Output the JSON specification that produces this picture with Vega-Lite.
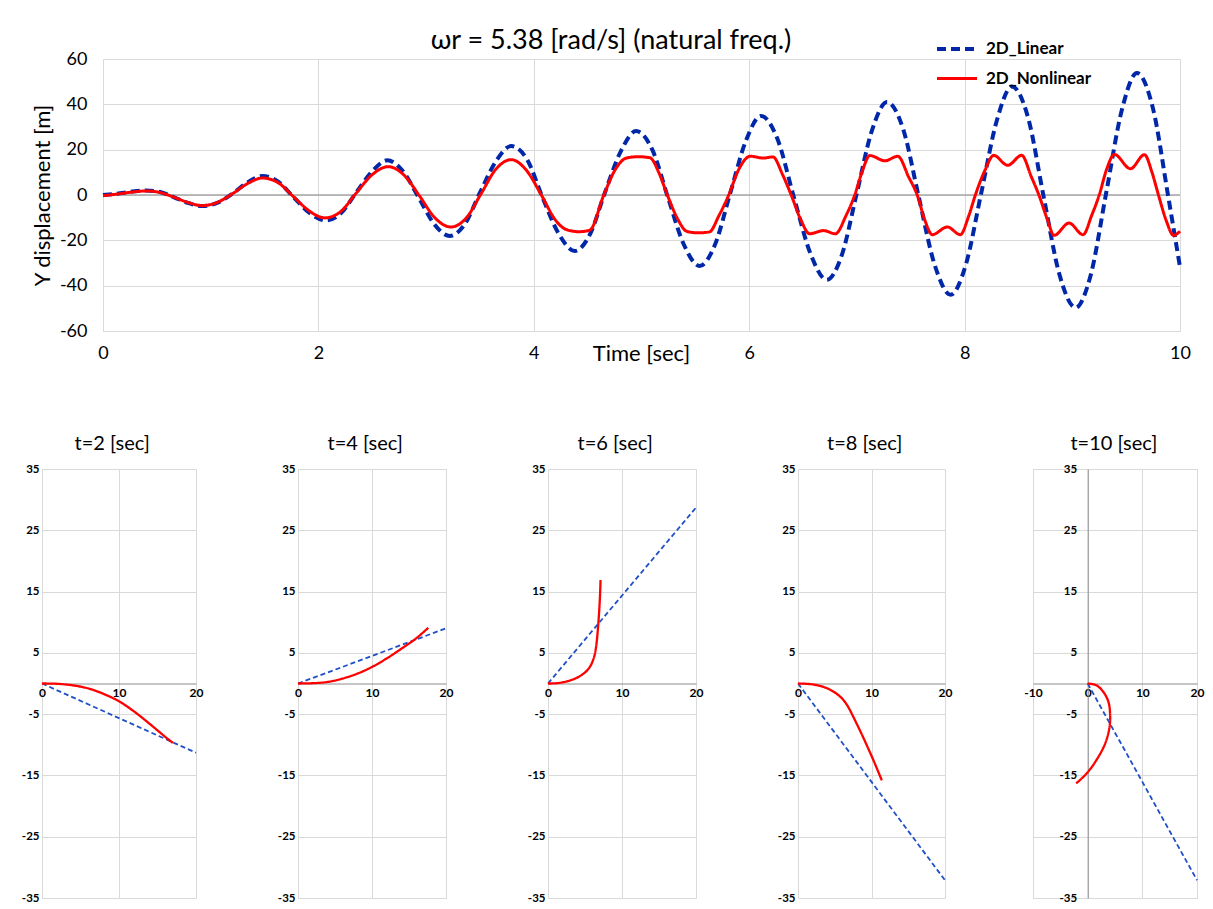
{
  "$schema": "https://vega.github.io/schema/vega-lite/v6.json",
  "background": "white",
  "padding": {"left": 21, "top": 27, "right": 5, "bottom": 0},
  "spacing": 70,
  "resolve": {"scale": {"color": "independent", "strokeDash": "independent", "strokeWidth": "independent", "x": "independent", "y": "independent"}},
  "datasets": {
    "top": [
      {"s":"2D_Linear","t":0,"v":0},{"s":"2D_Linear","t":0.13,"v":0.6},{"s":"2D_Linear","t":0.27,"v":1.5},{"s":"2D_Linear","t":0.4,"v":2.0},{"s":"2D_Linear","t":0.53,"v":1.3},{"s":"2D_Linear","t":0.66,"v":-1.0},{"s":"2D_Linear","t":0.79,"v":-3.5},{"s":"2D_Linear","t":0.92,"v":-4.9},{"s":"2D_Linear","t":1.06,"v":-3.5},{"s":"2D_Linear","t":1.2,"v":0.5},{"s":"2D_Linear","t":1.34,"v":5.5},{"s":"2D_Linear","t":1.48,"v":8.4},{"s":"2D_Linear","t":1.63,"v":5.8},{"s":"2D_Linear","t":1.77,"v":-1.0},{"s":"2D_Linear","t":1.92,"v":-8.0},{"s":"2D_Linear","t":2.07,"v":-11.2},{"s":"2D_Linear","t":2.21,"v":-8.0},{"s":"2D_Linear","t":2.35,"v":1.0},{"s":"2D_Linear","t":2.5,"v":10.5},{"s":"2D_Linear","t":2.64,"v":15.3},{"s":"2D_Linear","t":2.78,"v":10.8},{"s":"2D_Linear","t":2.93,"v":-1.0},{"s":"2D_Linear","t":3.07,"v":-12.5},{"s":"2D_Linear","t":3.22,"v":-18.1},{"s":"2D_Linear","t":3.36,"v":-12.8},{"s":"2D_Linear","t":3.5,"v":1.0},{"s":"2D_Linear","t":3.65,"v":15.0},{"s":"2D_Linear","t":3.79,"v":21.6},{"s":"2D_Linear","t":3.94,"v":15.5},{"s":"2D_Linear","t":4.08,"v":-1.0},{"s":"2D_Linear","t":4.23,"v":-17.0},{"s":"2D_Linear","t":4.38,"v":-24.7},{"s":"2D_Linear","t":4.52,"v":-17.5},{"s":"2D_Linear","t":4.66,"v":1.0},{"s":"2D_Linear","t":4.81,"v":19.5},{"s":"2D_Linear","t":4.95,"v":28.2},{"s":"2D_Linear","t":5.1,"v":20.0},{"s":"2D_Linear","t":5.245,"v":-1.0},{"s":"2D_Linear","t":5.39,"v":-21.5},{"s":"2D_Linear","t":5.54,"v":-31.3},{"s":"2D_Linear","t":5.68,"v":-22.2},{"s":"2D_Linear","t":5.825,"v":1.0},{"s":"2D_Linear","t":5.97,"v":24.0},{"s":"2D_Linear","t":6.11,"v":34.9},{"s":"2D_Linear","t":6.26,"v":25.0},{"s":"2D_Linear","t":6.415,"v":-1.0},{"s":"2D_Linear","t":6.57,"v":-26.0},{"s":"2D_Linear","t":6.72,"v":-37.4},{"s":"2D_Linear","t":6.86,"v":-26.5},{"s":"2D_Linear","t":7.0,"v":1.0},{"s":"2D_Linear","t":7.14,"v":28.5},{"s":"2D_Linear","t":7.28,"v":41.0},{"s":"2D_Linear","t":7.43,"v":29.0},{"s":"2D_Linear","t":7.575,"v":-1.0},{"s":"2D_Linear","t":7.72,"v":-30.5},{"s":"2D_Linear","t":7.87,"v":-44.0},{"s":"2D_Linear","t":8.01,"v":-31.0},{"s":"2D_Linear","t":8.155,"v":1.0},{"s":"2D_Linear","t":8.3,"v":33.0},{"s":"2D_Linear","t":8.44,"v":47.9},{"s":"2D_Linear","t":8.59,"v":34.0},{"s":"2D_Linear","t":8.735,"v":-1.0},{"s":"2D_Linear","t":8.88,"v":-35.0},{"s":"2D_Linear","t":9.03,"v":-49.7},{"s":"2D_Linear","t":9.17,"v":-35.5},{"s":"2D_Linear","t":9.315,"v":1.0},{"s":"2D_Linear","t":9.46,"v":37.5},{"s":"2D_Linear","t":9.6,"v":53.8},{"s":"2D_Linear","t":9.75,"v":38.0},{"s":"2D_Linear","t":9.89,"v":-0.5},{"s":"2D_Linear","t":10.0,"v":-31.8},
      {"s":"2D_Nonlinear","t":0,"v":-0.3},{"s":"2D_Nonlinear","t":0.13,"v":0.4},{"s":"2D_Nonlinear","t":0.27,"v":1.3},{"s":"2D_Nonlinear","t":0.4,"v":1.8},{"s":"2D_Nonlinear","t":0.53,"v":1.1},{"s":"2D_Nonlinear","t":0.66,"v":-1.0},{"s":"2D_Nonlinear","t":0.79,"v":-3.3},{"s":"2D_Nonlinear","t":0.92,"v":-4.7},{"s":"2D_Nonlinear","t":1.06,"v":-3.3},{"s":"2D_Nonlinear","t":1.2,"v":0.5},{"s":"2D_Nonlinear","t":1.34,"v":5.0},{"s":"2D_Nonlinear","t":1.48,"v":7.5},{"s":"2D_Nonlinear","t":1.63,"v":5.3},{"s":"2D_Nonlinear","t":1.77,"v":-0.8},{"s":"2D_Nonlinear","t":1.92,"v":-7.2},{"s":"2D_Nonlinear","t":2.06,"v":-10.1},{"s":"2D_Nonlinear","t":2.21,"v":-7.2},{"s":"2D_Nonlinear","t":2.35,"v":0.8},{"s":"2D_Nonlinear","t":2.5,"v":9.0},{"s":"2D_Nonlinear","t":2.65,"v":12.5},{"s":"2D_Nonlinear","t":2.79,"v":9.0},{"s":"2D_Nonlinear","t":2.94,"v":-0.5},{"s":"2D_Nonlinear","t":3.08,"v":-10.0},{"s":"2D_Nonlinear","t":3.23,"v":-14.1},{"s":"2D_Nonlinear","t":3.37,"v":-10.3},{"s":"2D_Nonlinear","t":3.51,"v":0.5},{"s":"2D_Nonlinear","t":3.65,"v":11.5},{"s":"2D_Nonlinear","t":3.79,"v":15.6},{"s":"2D_Nonlinear","t":3.93,"v":11.0},{"s":"2D_Nonlinear","t":4.07,"v":0.0},{"s":"2D_Nonlinear","t":4.2,"v":-11.0},{"s":"2D_Nonlinear","t":4.3,"v":-15.2},{"s":"2D_Nonlinear","t":4.42,"v":-16.2},{"s":"2D_Nonlinear","t":4.52,"v":-15.5},{"s":"2D_Nonlinear","t":4.65,"v":0.0},{"s":"2D_Nonlinear","t":4.76,"v":11.5},{"s":"2D_Nonlinear","t":4.86,"v":16.3},{"s":"2D_Nonlinear","t":4.97,"v":16.9},{"s":"2D_Nonlinear","t":5.08,"v":16.4},{"s":"2D_Nonlinear","t":5.16,"v":10.0},{"s":"2D_Nonlinear","t":5.24,"v":0.0},{"s":"2D_Nonlinear","t":5.33,"v":-10.0},{"s":"2D_Nonlinear","t":5.42,"v":-16.0},{"s":"2D_Nonlinear","t":5.52,"v":-16.7},{"s":"2D_Nonlinear","t":5.63,"v":-16.3},{"s":"2D_Nonlinear","t":5.72,"v":-9.0},{"s":"2D_Nonlinear","t":5.81,"v":0.0},{"s":"2D_Nonlinear","t":5.9,"v":11.0},{"s":"2D_Nonlinear","t":6.01,"v":17.1},{"s":"2D_Nonlinear","t":6.13,"v":16.3},{"s":"2D_Nonlinear","t":6.22,"v":16.8},{"s":"2D_Nonlinear","t":6.31,"v":9.0},{"s":"2D_Nonlinear","t":6.39,"v":0.0},{"s":"2D_Nonlinear","t":6.48,"v":-11.0},{"s":"2D_Nonlinear","t":6.56,"v":-17.1},{"s":"2D_Nonlinear","t":6.69,"v":-15.7},{"s":"2D_Nonlinear","t":6.8,"v":-17.1},{"s":"2D_Nonlinear","t":6.9,"v":-9.0},{"s":"2D_Nonlinear","t":6.98,"v":0.0},{"s":"2D_Nonlinear","t":7.05,"v":10.5},{"s":"2D_Nonlinear","t":7.12,"v":17.4},{"s":"2D_Nonlinear","t":7.26,"v":15.1},{"s":"2D_Nonlinear","t":7.38,"v":17.1},{"s":"2D_Nonlinear","t":7.48,"v":8.0},{"s":"2D_Nonlinear","t":7.56,"v":0.0},{"s":"2D_Nonlinear","t":7.63,"v":-11.0},{"s":"2D_Nonlinear","t":7.7,"v":-17.5},{"s":"2D_Nonlinear","t":7.84,"v":-14.1},{"s":"2D_Nonlinear","t":7.96,"v":-17.5},{"s":"2D_Nonlinear","t":8.04,"v":-9.0},{"s":"2D_Nonlinear","t":8.1,"v":0.0},{"s":"2D_Nonlinear","t":8.19,"v":11.0},{"s":"2D_Nonlinear","t":8.27,"v":17.5},{"s":"2D_Nonlinear","t":8.4,"v":13.1},{"s":"2D_Nonlinear","t":8.53,"v":17.5},{"s":"2D_Nonlinear","t":8.62,"v":8.0},{"s":"2D_Nonlinear","t":8.69,"v":0.0},{"s":"2D_Nonlinear","t":8.77,"v":-11.0},{"s":"2D_Nonlinear","t":8.83,"v":-17.8},{"s":"2D_Nonlinear","t":8.97,"v":-12.4},{"s":"2D_Nonlinear","t":9.1,"v":-17.5},{"s":"2D_Nonlinear","t":9.18,"v":-9.0},{"s":"2D_Nonlinear","t":9.25,"v":0.0},{"s":"2D_Nonlinear","t":9.32,"v":11.5},{"s":"2D_Nonlinear","t":9.39,"v":17.9},{"s":"2D_Nonlinear","t":9.54,"v":11.6},{"s":"2D_Nonlinear","t":9.67,"v":17.8},{"s":"2D_Nonlinear","t":9.74,"v":10.0},{"s":"2D_Nonlinear","t":9.8,"v":0.0},{"s":"2D_Nonlinear","t":9.87,"v":-11.0},{"s":"2D_Nonlinear","t":9.94,"v":-17.8},{"s":"2D_Nonlinear","t":10.0,"v":-16.0}
    ],
    "shapes": [
      {"p":2,"s":"L","i":0,"x":0,"y":0},{"p":2,"s":"L","i":1,"x":20,"y":-11.3},
      {"p":2,"s":"N","i":0,"x":0,"y":0},{"p":2,"s":"N","i":1,"x":2,"y":-0.05},{"p":2,"s":"N","i":2,"x":4,"y":-0.3},{"p":2,"s":"N","i":3,"x":6,"y":-0.8},{"p":2,"s":"N","i":4,"x":8,"y":-1.7},{"p":2,"s":"N","i":5,"x":10,"y":-2.9},{"p":2,"s":"N","i":6,"x":12,"y":-4.6},{"p":2,"s":"N","i":7,"x":14,"y":-6.6},{"p":2,"s":"N","i":8,"x":16,"y":-8.7},{"p":2,"s":"N","i":9,"x":17,"y":-9.7},
      {"p":4,"s":"L","i":0,"x":0,"y":0},{"p":4,"s":"L","i":1,"x":20,"y":9.0},
      {"p":4,"s":"N","i":0,"x":0,"y":0},{"p":4,"s":"N","i":1,"x":2,"y":0.05},{"p":4,"s":"N","i":2,"x":4,"y":0.25},{"p":4,"s":"N","i":3,"x":6,"y":0.8},{"p":4,"s":"N","i":4,"x":8,"y":1.6},{"p":4,"s":"N","i":5,"x":10,"y":2.7},{"p":4,"s":"N","i":6,"x":12,"y":4.1},{"p":4,"s":"N","i":7,"x":14,"y":5.7},{"p":4,"s":"N","i":8,"x":16,"y":7.4},{"p":4,"s":"N","i":9,"x":17.6,"y":9.1},
      {"p":6,"s":"L","i":0,"x":0,"y":0},{"p":6,"s":"L","i":1,"x":20,"y":28.7},
      {"p":6,"s":"N","i":0,"x":0,"y":0},{"p":6,"s":"N","i":1,"x":1,"y":0.03},{"p":6,"s":"N","i":2,"x":2,"y":0.2},{"p":6,"s":"N","i":3,"x":3,"y":0.5},{"p":6,"s":"N","i":4,"x":4,"y":1.0},{"p":6,"s":"N","i":5,"x":5,"y":1.8},{"p":6,"s":"N","i":6,"x":5.7,"y":2.8},{"p":6,"s":"N","i":7,"x":6.2,"y":4.2},{"p":6,"s":"N","i":8,"x":6.5,"y":6.0},{"p":6,"s":"N","i":9,"x":6.75,"y":9.0},{"p":6,"s":"N","i":10,"x":6.95,"y":12.5},{"p":6,"s":"N","i":11,"x":7.05,"y":15.0},{"p":6,"s":"N","i":12,"x":7.1,"y":16.9},
      {"p":8,"s":"L","i":0,"x":0,"y":0},{"p":8,"s":"L","i":1,"x":20,"y":-32.1},
      {"p":8,"s":"N","i":0,"x":0,"y":0},{"p":8,"s":"N","i":1,"x":2,"y":-0.15},{"p":8,"s":"N","i":2,"x":4,"y":-0.8},{"p":8,"s":"N","i":3,"x":5.5,"y":-1.9},{"p":8,"s":"N","i":4,"x":6.5,"y":-3.2},{"p":8,"s":"N","i":5,"x":8,"y":-6.6},{"p":8,"s":"N","i":6,"x":10,"y":-11.8},{"p":8,"s":"N","i":7,"x":11.4,"y":-15.8},
      {"p":10,"s":"L","i":0,"x":0,"y":0},{"p":10,"s":"L","i":1,"x":20,"y":-32.1},
      {"p":10,"s":"N","i":0,"x":0,"y":0},{"p":10,"s":"N","i":1,"x":1.6,"y":-0.3},{"p":10,"s":"N","i":2,"x":2.9,"y":-1.4},{"p":10,"s":"N","i":3,"x":3.8,"y":-3.0},{"p":10,"s":"N","i":4,"x":4.1,"y":-4.9},{"p":10,"s":"N","i":5,"x":4.0,"y":-7.1},{"p":10,"s":"N","i":6,"x":3.2,"y":-9.8},{"p":10,"s":"N","i":7,"x":1.6,"y":-12.5},{"p":10,"s":"N","i":8,"x":-0.2,"y":-14.7},{"p":10,"s":"N","i":9,"x":-2.1,"y":-16.3}
    ]
  },
  "vconcat": [
    {
      "width": 1138,
      "height": 272,
      "title": {"text": "ωr = 5.38 [rad/s] (natural freq.)", "fontSize": 27, "anchor": "middle", "frame": "group", "offset": -28},
      "data": {"name": "top"},
      "layer": [
        {
          "data": {"values": [{}]},
          "mark": {"type": "rule", "color": "#a6a6a6", "strokeWidth": 1.3},
          "encoding": {"x": {"datum": 0, "type": "quantitative"}, "x2": {"datum": 10}, "y": {"datum": 0, "type": "quantitative"}}
        },
        {
          "mark": {"type": "line", "interpolate": "monotone"},
          "encoding": {
            "x": {"field": "t", "type": "quantitative", "scale": {"domain": [0, 10], "nice": false, "zero": false, "range": [61, 1138]},
              "axis": {"values": [0, 2, 4, 6, 8, 10], "labelExpr": "'' + datum.value", "grid": true, "domain": false, "ticks": false, "tickSize": 0, "labelFontSize": 18, "labelPadding": 13, "labelFlush": false,
                "title": "Time [sec]", "titleFontSize": 22, "titleFontWeight": "normal", "titleX": 599, "titleY": 22, "titleAlign": "center", "titleBaseline": "middle"}},
            "y": {"field": "v", "type": "quantitative", "scale": {"domain": [-60, 60], "nice": false, "zero": false},
              "axis": {"values": [-60, -40, -20, 0, 20, 40, 60], "labelExpr": "datum.value < 0 ? '-' + abs(datum.value) : '' + datum.value", "offset": -61, "grid": true, "domain": false, "ticks": false, "tickSize": 0, "labelFontSize": 18, "labelPadding": 16,
                "title": "Y displacement [m]", "titleFontSize": 22, "titleFontWeight": "normal", "titleX": -61, "titleY": 136, "titleAngle": -90, "titleAlign": "center", "titleBaseline": "middle"}},
            "color": {"field": "s", "type": "nominal", "scale": {"domain": ["2D_Linear", "2D_Nonlinear"], "range": ["#0027A8", "#FF0000"]},
              "legend": {"orient": "none", "legendX": 893, "legendY": -32, "title": null, "padding": 0, "labelFontSize": 17, "labelFontWeight": "bold", "symbolType": "stroke", "symbolSize": 1600, "symbolStrokeWidth": 3.5, "rowPadding": -7, "labelOffset": 7}},
            "strokeDash": {"field": "s", "type": "nominal", "scale": {"domain": ["2D_Linear", "2D_Nonlinear"], "range": [[9, 5], [1, 0]]},
              "legend": {"orient": "none", "legendX": 893, "legendY": -32, "title": null, "padding": 0, "labelFontSize": 17, "labelFontWeight": "bold", "symbolType": "stroke", "symbolSize": 1600, "symbolStrokeWidth": 3.5, "rowPadding": -7, "labelOffset": 7}},
            "strokeWidth": {"field": "s", "type": "nominal", "scale": {"domain": ["2D_Linear", "2D_Nonlinear"], "range": [4, 3]}, "legend": null}
          }
        }
      ]
    },
    {
      "spacing": 71,
      "resolve": {"scale": {"color": "independent", "strokeDash": "independent", "strokeWidth": "independent", "x": "independent", "y": "independent"}},
      "hconcat": [
        {
          "spacing": 74,
          "resolve": {"scale": {"color": "independent", "strokeDash": "independent", "strokeWidth": "independent", "x": "independent", "y": "independent"}},
          "hconcat": [
            {
              "width": 154, "height": 429,
              "title": {"text": "t=2 [sec]", "fontSize": 20, "anchor": "middle", "frame": "bounds", "offset": 9},
              "data": {"name": "shapes"},
              "transform": [{"filter": "datum.p == 2"}],
              "mark": {"type": "line", "interpolate": "catmull-rom"},
              "encoding": {
                "x": {"field": "x", "type": "quantitative", "scale": {"domain": [0, 20], "nice": false, "zero": false},
                  "axis": {"values": [0, 10, 20], "orient": "bottom", "offset": -214.5, "grid": true, "domain": true, "domainColor": "#8c8c8c", "ticks": false, "tickSize": 0, "labelFontSize": 12, "labelFontWeight": "bold", "labelPadding": 4, "labelFlush": false, "title": null}},
                "y": {"field": "y", "type": "quantitative", "scale": {"domain": [-35, 35], "nice": false, "zero": false},
                  "axis": {"values": [-35, -25, -15, -5, 5, 15, 25, 35], "labelExpr": "datum.value < 0 ? '-' + abs(datum.value) : '' + datum.value", "grid": true, "domain": false, "ticks": false, "tickSize": 0, "labelFontSize": 11.5, "labelFontWeight": "bold", "labelPadding": 3, "title": null}},
                "order": {"field": "i", "type": "quantitative"},
                "color": {"field": "s", "type": "nominal", "scale": {"domain": ["L", "N"], "range": ["#2050C8", "#FF0000"]}, "legend": null},
                "strokeDash": {"field": "s", "type": "nominal", "scale": {"domain": ["L", "N"], "range": [[5, 3], [1, 0]]}, "legend": null},
                "strokeWidth": {"field": "s", "type": "nominal", "scale": {"domain": ["L", "N"], "range": [1.8, 2.3]}, "legend": null}
              }
            },
            {
              "width": 148, "height": 429,
              "title": {"text": "t=4 [sec]", "fontSize": 20, "anchor": "middle", "frame": "bounds", "offset": 9},
              "data": {"name": "shapes"},
              "transform": [{"filter": "datum.p == 4"}],
              "mark": {"type": "line", "interpolate": "catmull-rom"},
              "encoding": {
                "x": {"field": "x", "type": "quantitative", "scale": {"domain": [0, 20], "nice": false, "zero": false},
                  "axis": {"values": [0, 10, 20], "orient": "bottom", "offset": -214.5, "grid": true, "domain": true, "domainColor": "#8c8c8c", "ticks": false, "tickSize": 0, "labelFontSize": 12, "labelFontWeight": "bold", "labelPadding": 4, "labelFlush": false, "title": null}},
                "y": {"field": "y", "type": "quantitative", "scale": {"domain": [-35, 35], "nice": false, "zero": false},
                  "axis": {"values": [-35, -25, -15, -5, 5, 15, 25, 35], "labelExpr": "datum.value < 0 ? '-' + abs(datum.value) : '' + datum.value", "grid": true, "domain": false, "ticks": false, "tickSize": 0, "labelFontSize": 11.5, "labelFontWeight": "bold", "labelPadding": 3, "title": null}},
                "order": {"field": "i", "type": "quantitative"},
                "color": {"field": "s", "type": "nominal", "scale": {"domain": ["L", "N"], "range": ["#2050C8", "#FF0000"]}, "legend": null},
                "strokeDash": {"field": "s", "type": "nominal", "scale": {"domain": ["L", "N"], "range": [[5, 3], [1, 0]]}, "legend": null},
                "strokeWidth": {"field": "s", "type": "nominal", "scale": {"domain": ["L", "N"], "range": [1.8, 2.3]}, "legend": null}
              }
            },
            {
              "width": 148, "height": 429,
              "title": {"text": "t=6 [sec]", "fontSize": 20, "anchor": "middle", "frame": "bounds", "offset": 9},
              "data": {"name": "shapes"},
              "transform": [{"filter": "datum.p == 6"}],
              "mark": {"type": "line", "interpolate": "catmull-rom"},
              "encoding": {
                "x": {"field": "x", "type": "quantitative", "scale": {"domain": [0, 20], "nice": false, "zero": false},
                  "axis": {"values": [0, 10, 20], "orient": "bottom", "offset": -214.5, "grid": true, "domain": true, "domainColor": "#8c8c8c", "ticks": false, "tickSize": 0, "labelFontSize": 12, "labelFontWeight": "bold", "labelPadding": 4, "labelFlush": false, "title": null}},
                "y": {"field": "y", "type": "quantitative", "scale": {"domain": [-35, 35], "nice": false, "zero": false},
                  "axis": {"values": [-35, -25, -15, -5, 5, 15, 25, 35], "labelExpr": "datum.value < 0 ? '-' + abs(datum.value) : '' + datum.value", "grid": true, "domain": false, "ticks": false, "tickSize": 0, "labelFontSize": 11.5, "labelFontWeight": "bold", "labelPadding": 3, "title": null}},
                "order": {"field": "i", "type": "quantitative"},
                "color": {"field": "s", "type": "nominal", "scale": {"domain": ["L", "N"], "range": ["#2050C8", "#FF0000"]}, "legend": null},
                "strokeDash": {"field": "s", "type": "nominal", "scale": {"domain": ["L", "N"], "range": [[5, 3], [1, 0]]}, "legend": null},
                "strokeWidth": {"field": "s", "type": "nominal", "scale": {"domain": ["L", "N"], "range": [1.8, 2.3]}, "legend": null}
              }
            },
            {
              "width": 147, "height": 429,
              "title": {"text": "t=8 [sec]", "fontSize": 20, "anchor": "middle", "frame": "bounds", "offset": 9},
              "data": {"name": "shapes"},
              "transform": [{"filter": "datum.p == 8"}],
              "mark": {"type": "line", "interpolate": "catmull-rom"},
              "encoding": {
                "x": {"field": "x", "type": "quantitative", "scale": {"domain": [0, 20], "nice": false, "zero": false},
                  "axis": {"values": [0, 10, 20], "orient": "bottom", "offset": -214.5, "grid": true, "domain": true, "domainColor": "#8c8c8c", "ticks": false, "tickSize": 0, "labelFontSize": 12, "labelFontWeight": "bold", "labelPadding": 4, "labelFlush": false, "title": null}},
                "y": {"field": "y", "type": "quantitative", "scale": {"domain": [-35, 35], "nice": false, "zero": false},
                  "axis": {"values": [-35, -25, -15, -5, 5, 15, 25, 35], "labelExpr": "datum.value < 0 ? '-' + abs(datum.value) : '' + datum.value", "grid": true, "domain": false, "ticks": false, "tickSize": 0, "labelFontSize": 11.5, "labelFontWeight": "bold", "labelPadding": 3, "title": null}},
                "order": {"field": "i", "type": "quantitative"},
                "color": {"field": "s", "type": "nominal", "scale": {"domain": ["L", "N"], "range": ["#2050C8", "#FF0000"]}, "legend": null},
                "strokeDash": {"field": "s", "type": "nominal", "scale": {"domain": ["L", "N"], "range": [[5, 3], [1, 0]]}, "legend": null},
                "strokeWidth": {"field": "s", "type": "nominal", "scale": {"domain": ["L", "N"], "range": [1.8, 2.3]}, "legend": null}
              }
            }
          ]
        },
        {
          "width": 164, "height": 429,
          "title": {"text": "t=10 [sec]", "fontSize": 20, "anchor": "middle", "frame": "bounds", "offset": 9},
          "data": {"name": "shapes"},
          "transform": [{"filter": "datum.p == 10"}],
          "mark": {"type": "line", "interpolate": "catmull-rom"},
          "encoding": {
            "x": {"field": "x", "type": "quantitative", "scale": {"domain": [-10, 20], "nice": false, "zero": false},
              "axis": {"values": [-10, 0, 10, 20], "labelExpr": "datum.value < 0 ? '-' + abs(datum.value) : '' + datum.value", "orient": "bottom", "offset": -214.5, "grid": true, "domain": true, "domainColor": "#8c8c8c", "ticks": false, "tickSize": 0, "labelFontSize": 12, "labelFontWeight": "bold", "labelPadding": 4, "labelFlush": false, "title": null}},
            "y": {"field": "y", "type": "quantitative", "scale": {"domain": [-35, 35], "nice": false, "zero": false},
              "axis": {"values": [-35, -25, -15, -5, 5, 15, 25, 35], "labelExpr": "datum.value < 0 ? '-' + abs(datum.value) : '' + datum.value", "offset": -54.67, "grid": true, "domain": true, "domainColor": "#8c8c8c", "ticks": false, "tickSize": 0, "labelFontSize": 11.5, "labelFontWeight": "bold", "labelPadding": 11, "title": null}},
            "order": {"field": "i", "type": "quantitative"},
            "color": {"field": "s", "type": "nominal", "scale": {"domain": ["L", "N"], "range": ["#2050C8", "#FF0000"]}, "legend": null},
            "strokeDash": {"field": "s", "type": "nominal", "scale": {"domain": ["L", "N"], "range": [[5, 3], [1, 0]]}, "legend": null},
            "strokeWidth": {"field": "s", "type": "nominal", "scale": {"domain": ["L", "N"], "range": [1.8, 2.3]}, "legend": null}
          }
        }
      ]
    }
  ],
  "config": {
    "font": "Lato",
    "view": {"stroke": null},
    "axis": {"labelColor": "#000000", "titleColor": "#000000", "gridColor": "#d9d9d9", "gridWidth": 1, "labelFont": "Lato", "titleFont": "Lato"},
    "legend": {"labelColor": "#000000", "labelFont": "Lato"},
    "title": {"font": "Lato", "fontWeight": "normal", "color": "#000000"}
  }
}
